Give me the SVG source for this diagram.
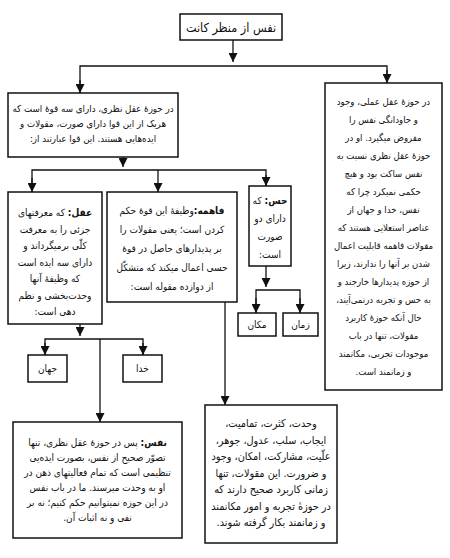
<svg xmlns="http://www.w3.org/2000/svg" width="450" height="558" viewBox="0 0 450 558">
<style>
.box{fill:#fff;stroke:#111;stroke-width:1.5}
.ln{fill:none;stroke:#111;stroke-width:1.3}
text{font-family:"DejaVu Sans Condensed","DejaVu Sans",sans-serif;font-stretch:condensed;font-size:10.5px;fill:#111;text-anchor:middle;direction:rtl;unicode-bidi:embed}
.ttl{font-size:12.5px}
.s1{font-size:9.5px}
.s2{font-size:9.7px}
.s3{font-size:10px}
.s4{font-size:10.8px}
.b{font-weight:bold}
</style>
<defs>
<marker id="ah" markerUnits="userSpaceOnUse" markerWidth="9" markerHeight="10" refX="4.5" refY="9" orient="0" viewBox="0 0 9 10">
<path d="M0,0 L9,0 L4.5,9 z" fill="#111"/>
</marker>
</defs>
<rect width="450" height="558" fill="#fff"/>
<g id="connectors">
<line class="ln" x1="233" y1="40" x2="233" y2="62" marker-end="url(#ah)"/>
<polyline class="ln" points="80,93 80,66 387,66 387,83"/>
<line class="ln" x1="80" y1="80" x2="80" y2="93" marker-end="url(#ah)"/>
<line class="ln" x1="387" y1="70" x2="387" y2="83" marker-end="url(#ah)"/>
<line class="ln" x1="123" y1="157" x2="123" y2="167" marker-end="url(#ah)"/>
<polyline class="ln" points="32,192 32,170 266,170 266,186"/>
<line class="ln" x1="32" y1="178" x2="32" y2="192" marker-end="url(#ah)"/>
<line class="ln" x1="158" y1="170" x2="158" y2="192" marker-end="url(#ah)"/>
<line class="ln" x1="266" y1="175" x2="266" y2="186" marker-end="url(#ah)"/>
<line class="ln" x1="266" y1="266" x2="266" y2="287" marker-end="url(#ah)"/>
<polyline class="ln" points="256,313 256,290 300,290 300,313"/>
<line class="ln" x1="256" y1="298" x2="256" y2="313" marker-end="url(#ah)"/>
<line class="ln" x1="300" y1="298" x2="300" y2="313" marker-end="url(#ah)"/>
<line class="ln" x1="225" y1="302" x2="225" y2="405" marker-end="url(#ah)"/>
<line class="ln" x1="80" y1="324" x2="80" y2="336" marker-end="url(#ah)"/>
<polyline class="ln" points="45,355 45,339 143,339 143,355"/>
<line class="ln" x1="45" y1="343" x2="45" y2="355" marker-end="url(#ah)"/>
<line class="ln" x1="143" y1="343" x2="143" y2="355" marker-end="url(#ah)"/>
<line class="ln" x1="100" y1="339" x2="100" y2="422" marker-end="url(#ah)"/>
</g>
<g id="title">
<rect class="box" x="180" y="14" width="102" height="26"/>
<text class="ttl" x="231" y="32">نفس از منظر کانت</text>
</g>
<g id="practical" class="s1">
<rect class="box" x="325" y="83" width="117" height="307"/>
<text class="s1" x="383.5" y="105">در حوزۀ عقل عملی، وجود</text>
<text class="s1" x="383.5" y="123">و جاودانگی نفس را</text>
<text class="s1" x="383.5" y="141">مفروض میگیرد. او در</text>
<text class="s1" x="383.5" y="159">حوزۀ عقل نظری نسبت به</text>
<text class="s1" x="383.5" y="177">نفس ساکت بود و هیچ</text>
<text class="s1" x="383.5" y="195">حکمی نمیکرد چرا که</text>
<text class="s1" x="383.5" y="213">نفس، خدا و جهان از</text>
<text class="s1" x="383.5" y="231">عناصر استعلایی هستند که</text>
<text class="s1" x="383.5" y="249">مقولات فاهمه قابلیت اعمال</text>
<text class="s1" x="383.5" y="267">شدن بر آنها را ندارند، زیرا</text>
<text class="s1" x="383.5" y="285">از حوزه پدیدارها خارجند و</text>
<text class="s1" x="383.5" y="303">به حس و تجربه درنمی‌آیند،</text>
<text class="s1" x="383.5" y="321">حال آنکه حوزۀ کاربرد</text>
<text class="s1" x="383.5" y="339">مقولات، تنها در باب</text>
<text class="s1" x="383.5" y="357">موجودات تجربی، مکانمند</text>
<text class="s1" x="383.5" y="375">و زمانمند است.</text>
</g>
<g id="theoretical">
<rect class="box" x="8" y="93" width="170" height="64"/>
<text class="s2" x="93" y="112">در حوزۀ عقل نظری، دارای سه قوۀ است که</text>
<text class="s2" x="93" y="127">هریک از این قوا دارای صورت، مقولات و</text>
<text class="s2" x="93" y="142">ایده‌هایی هستند. این قوا عبارتند از:</text>
</g>
<g id="reason">
<rect class="box" x="8" y="192" width="94" height="132"/>
<text class="s3" x="55" y="216"><tspan class="b">عقل:</tspan> که معرفتهای</text>
<text class="s3" x="55" y="232.5">جزئی را به معرفت</text>
<text class="s3" x="55" y="249">کلّی برمیگرداند و</text>
<text class="s3" x="55" y="265.5">دارای سه ایده است</text>
<text class="s3" x="55" y="282">که وظیفۀ آنها</text>
<text class="s3" x="55" y="298.5">وحدت‌بخشی و نظم</text>
<text class="s3" x="55" y="315">دهی است:</text>
</g>
<g id="understanding">
<rect class="box" x="107" y="192" width="130" height="110"/>
<text class="s3" x="172" y="214"><tspan class="b">فاهمه:</tspan>وظیفۀ این قوۀ حکم</text>
<text class="s3" x="172" y="233">کردن است؛ یعنی مقولات را</text>
<text class="s3" x="172" y="252">بر پدیدارهای حاصل در قوۀ</text>
<text class="s3" x="172" y="271">حسی اعمال میکند که متشکّل</text>
<text class="s3" x="172" y="290">از دوازده مقوله است:</text>
</g>
<g id="sense">
<rect class="box" x="249" y="186" width="42" height="80"/>
<text class="s3" x="270" y="204"><tspan class="b">حس:</tspan> که</text>
<text class="s3" x="270" y="222">دارای دو</text>
<text class="s3" x="270" y="240">صورت</text>
<text class="s3" x="270" y="258">است:</text>
</g>
<g id="space">
<rect class="box" x="238" y="313" width="38" height="23"/>
<text class="s3" x="257" y="328">مکان</text>
</g>
<g id="time">
<rect class="box" x="283" y="313" width="35" height="23"/>
<text class="s3" x="300.5" y="328">زمان</text>
</g>
<g id="world">
<rect class="box" x="28" y="355" width="39" height="27"/>
<text class="s3" x="47.5" y="372">جهان</text>
</g>
<g id="god">
<rect class="box" x="123" y="355" width="39" height="27"/>
<text class="s3" x="142.5" y="372">خدا</text>
</g>
<g id="soul">
<rect class="box" x="13" y="422" width="169" height="116"/>
<text class="s3" x="97.5" y="446"><tspan class="b">نفس:</tspan> پس در حوزۀ عقل نظری، تنها</text>
<text class="s3" x="97.5" y="461">تصوّر صحیح از نفس، بصورت ایده‌یی</text>
<text class="s3" x="97.5" y="476">تنظیمی است که تمام فعالیتهای ذهن در</text>
<text class="s3" x="97.5" y="491">او به وحدت میرسند. ما در باب نفس</text>
<text class="s3" x="97.5" y="506">در این حوزه نمیتوانیم حکم کنیم؛ نه بر</text>
<text class="s3" x="97.5" y="521">نفی و نه اثبات آن.</text>
</g>
<g id="categories">
<rect class="box" x="205" y="405" width="132" height="138"/>
<text class="s4" x="271" y="427">وحدت، کثرت، تمامیت،</text>
<text class="s4" x="271" y="443.5">ایجاب، سلب، عدول، جوهر،</text>
<text class="s4" x="271" y="460">علّیت، مشارکت، امکان، وجود</text>
<text class="s4" x="271" y="476.5">و ضرورت. این مقولات، تنها</text>
<text class="s4" x="271" y="493">زمانی کاربرد صحیح دارند که</text>
<text class="s4" x="271" y="509.5">در حوزۀ تجربه و امور مکانمند</text>
<text class="s4" x="271" y="526">و زمانمند بکار گرفته شوند.</text>
</g>
</svg>
